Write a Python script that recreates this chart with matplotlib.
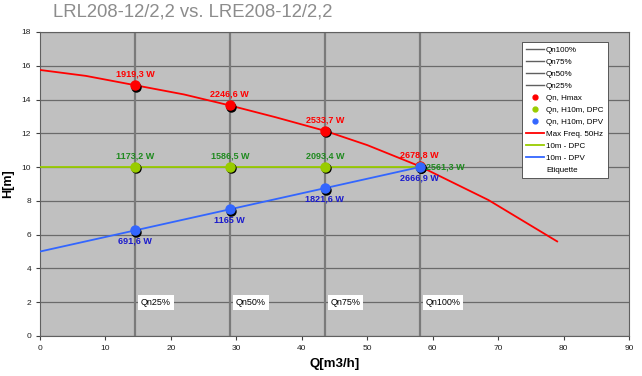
import matplotlib
matplotlib.use('Agg')
import matplotlib.pyplot as plt
import matplotlib.transforms as mtransforms
from matplotlib.lines import Line2D

plt.rcParams['font.family'] = ['Liberation Sans', 'DejaVu Sans']

# data
qn_pos = [14.5, 29, 43.5, 58]
qn_names = ['Qn25%', 'Qn50%', 'Qn75%', 'Qn100%']

curve_q = [0, 7, 14.5, 22, 29, 36, 43.5, 50, 58, 68.5, 79]
curve_h = [15.75, 15.4, 14.85, 14.3, 13.65, 12.95, 12.15, 11.3, 10.05, 8.05, 5.6]

hmax_h = [14.85, 13.65, 12.15, 10.05]
hmax_w = ['1919,3 W', '2246,6 W', '2533,7 W', '2678,8 W']

dpc_q = [0, 58]
dpc_h = [10, 10]
dpc_pts = [10, 10, 10, 10]
dpc_w = ['1173,2 W', '1586,5 W', '2093,4 W', '2561,3 W']

dpv_q = [0, 58]
dpv_h = [5.0, 10.0]
dpv_pts = [6.25, 7.5, 8.75, 10.0]
dpv_w = ['691,6 W', '1165 W', '1821,6 W', '2666,9 W']

red = '#ff0000'
green = '#99cc00'
blue = '#3366ff'

fig = plt.figure(figsize=(6.42, 3.76), dpi=100)
ax = fig.add_axes([0.0623, 0.1064, 0.9177, 0.8086])
ax.set_facecolor('#c0c0c0')
ax.set_xlim(0, 90)
ax.set_ylim(0, 18)
ax.set_xticks(range(0, 91, 10))
ax.set_yticks(range(0, 19, 2))
ax.tick_params(labelsize=6, length=3, color='#404040', labelcolor='#202020')
for s in ax.spines.values():
    s.set_color('#606060')
    s.set_linewidth(0.8)
ax.grid(axis='y', color='#6a6a6a', linewidth=0.9)
ax.set_axisbelow(True)

for q, name in zip(qn_pos, qn_names):
    ax.axvline(q, color='#7a7a7a', linewidth=1.6, zorder=1)
    ax.text(q + 0.9, 2, name, fontsize=6.5, va='center', ha='left',
            bbox=dict(facecolor='white', edgecolor='none', pad=2), zorder=5)

ax.plot(curve_q, curve_h, color=red, linewidth=1.3, zorder=3)
ax.plot(dpc_q, dpc_h, color=green, linewidth=1.3, zorder=3)
ax.plot(dpv_q, dpv_h, color=blue, linewidth=1.3, zorder=3)

shadow = mtransforms.offset_copy(ax.transData, fig=fig, x=1.0, y=-1.0, units='points')
for ys, col in [(hmax_h, red), (dpc_pts, green), (dpv_pts, blue)]:
    ax.plot(qn_pos, ys, 'o', color='black', markersize=6.5, transform=shadow, zorder=4)
    ax.plot(qn_pos, ys, 'o', color=col, markersize=6.5, zorder=4)

for q, h, t in zip(qn_pos, hmax_h, hmax_w):
    ax.text(q, h + 0.65, t, color=red, fontsize=6.5, fontweight='bold', ha='center', va='center', zorder=6)
for i, (q, h, t) in enumerate(zip(qn_pos, dpc_pts, dpc_w)):
    if i < 3:
        ax.text(q, h + 0.65, t, color='#1f8a1f', fontsize=6.5, fontweight='bold', ha='center', va='center', zorder=6)
    else:
        ax.text(q + 1.0, h, t, color='#1f8a1f', fontsize=6.5, fontweight='bold', ha='left', va='center', zorder=6)
for q, h, t in zip(qn_pos, dpv_pts, dpv_w):
    ax.text(q, h - 0.65, t, color='#1a1acc', fontsize=6.5, fontweight='bold', ha='center', va='center', zorder=6)

handles = [
    Line2D([], [], color='#606060', linewidth=1.0),
    Line2D([], [], color='#606060', linewidth=1.0),
    Line2D([], [], color='#606060', linewidth=1.0),
    Line2D([], [], color='#606060', linewidth=1.0),
    Line2D([], [], color=red, marker='o', linestyle='none', markersize=3.5),
    Line2D([], [], color=green, marker='o', linestyle='none', markersize=3.5),
    Line2D([], [], color=blue, marker='o', linestyle='none', markersize=3.5),
    Line2D([], [], color=red, linewidth=1.3),
    Line2D([], [], color=green, linewidth=1.3),
    Line2D([], [], color=blue, linewidth=1.3),
    Line2D([], [], color='none'),
]
labels = ['Qn100%', 'Qn75%', 'Qn50%', 'Qn25%', 'Qn, Hmax', 'Qn, H10m, DPC', 'Qn, H10m, DPV',
          'Max Freq. 50Hz', '10m - DPC', '10m - DPV', 'Etiquette']
leg = ax.legend(handles, labels, loc='upper left', bbox_to_anchor=(0.818, 0.967),
                fontsize=5.8, frameon=True, fancybox=False, framealpha=1, handlelength=2.2,
                handletextpad=0.3, labelspacing=0.55, borderpad=0.5, borderaxespad=0)
leg.get_frame().set_edgecolor('#404040')
leg.get_frame().set_linewidth(0.6)
leg.set_zorder(10)

ax.set_xlabel('Q[m3/h]', fontsize=9.5, fontweight='bold', labelpad=4)
ax.set_ylabel('H[m]', fontsize=9, fontweight='bold', labelpad=5)
fig.text(0.083, 0.967, 'LRL208-12/2,2 vs. LRE208-12/2,2', fontsize=13.3, color='#8c8c8c',
         ha='left', va='center')

fig.savefig('out.png', dpi=100)
